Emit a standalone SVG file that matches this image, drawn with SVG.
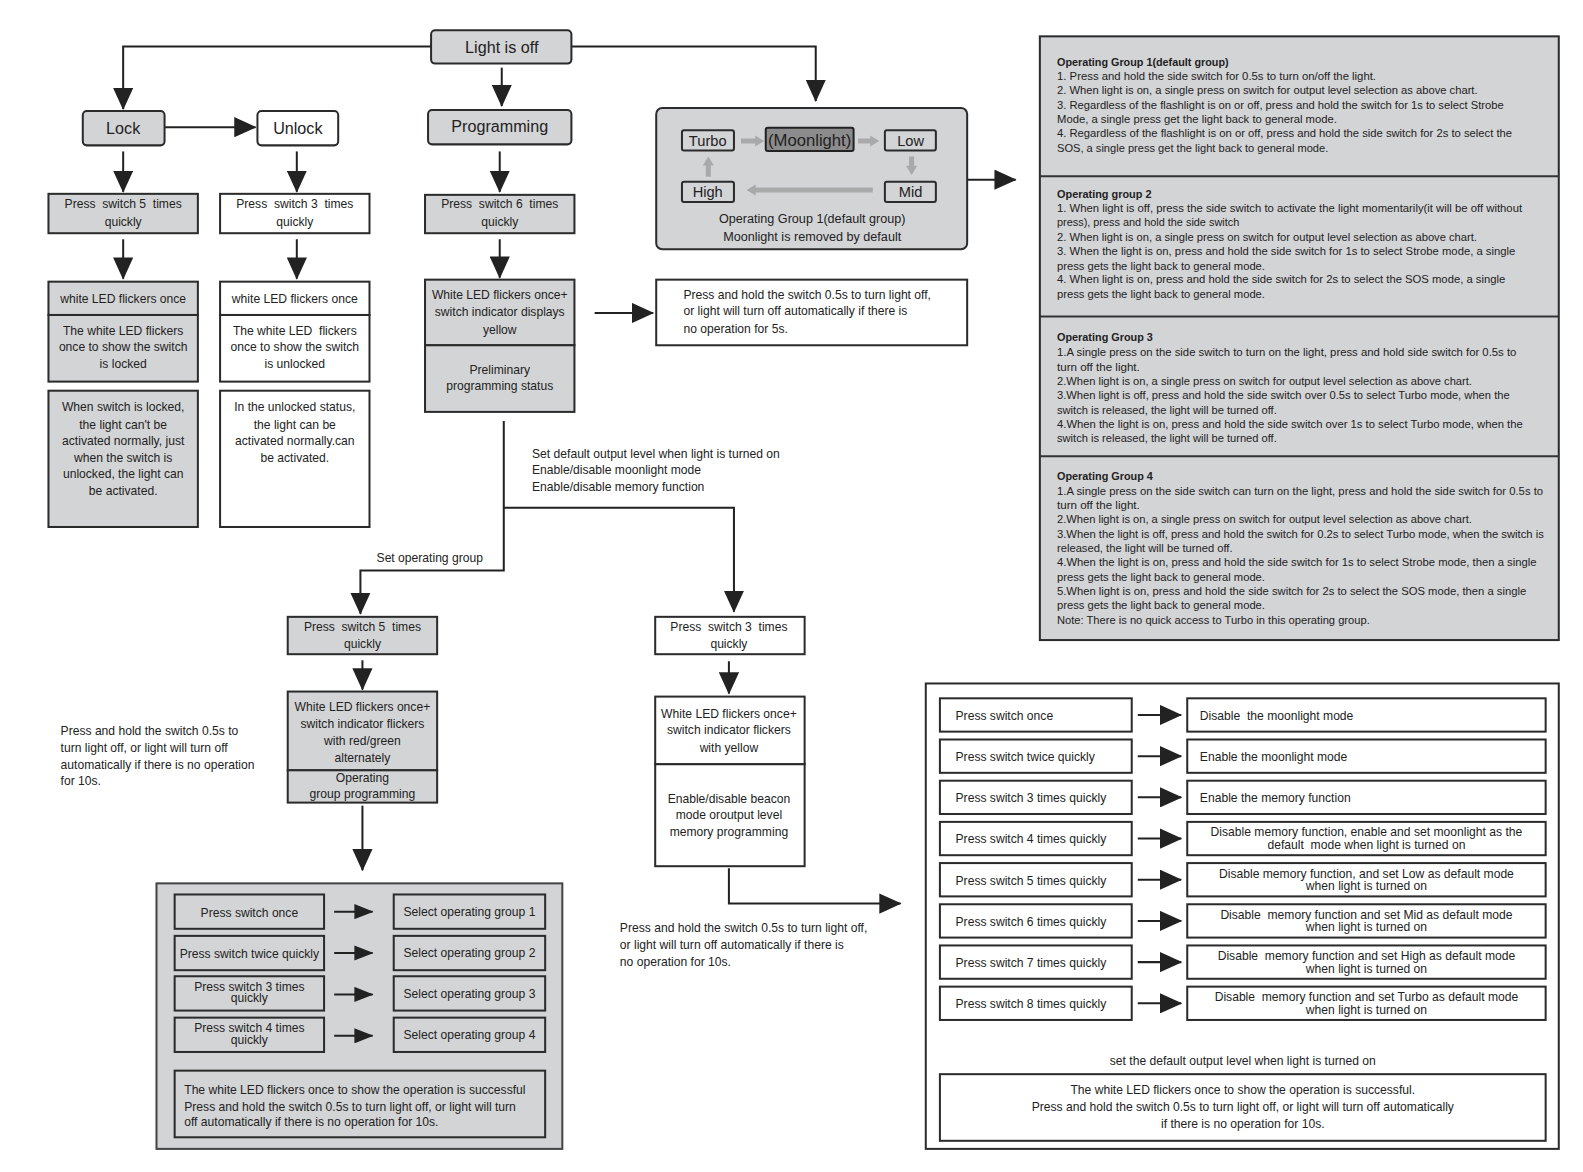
<svg xmlns="http://www.w3.org/2000/svg" width="1583" height="1172" viewBox="0 0 1583 1172">
<style>
.g{fill:#d3d4d6;stroke:#2b2b2b;stroke-width:2}
.w{fill:#fff;stroke:#2b2b2b;stroke-width:2}
.dk{fill:#8c8c8c;stroke:#222;stroke-width:2}
.ga{fill:#a9a9a9}
text{font-family:"Liberation Sans",Arial,sans-serif;font-size:12px;fill:#222;white-space:pre}
.c{text-anchor:middle}
.h{font-size:16px}
.p{font-size:10.5px}
.b{font-weight:bold}
.ln{fill:none;stroke:#222;stroke-width:2}
</style>
<defs>
<marker id="ah" markerUnits="userSpaceOnUse" markerWidth="22" markerHeight="20" refX="21" refY="10" orient="auto"><path d="M0,0 L22,10 L0,20 z" fill="#222"/></marker>
<marker id="as" markerUnits="userSpaceOnUse" markerWidth="19" markerHeight="15" refX="18" refY="7.5" orient="auto"><path d="M0,0 L19,7.5 L0,15 z" fill="#222"/></marker>
</defs>
<rect width="1583" height="1172" fill="#fff"/>
<g transform="scale(1.009566)">

<g id="connectors">
<path class="ln" d="M427,46 H122 V108" marker-end="url(#ah)"/>
<path class="ln" d="M566,46 H808 V100" marker-end="url(#ah)"/>
<path class="ln" d="M497,67 V105" marker-end="url(#ah)"/>
<path class="ln" d="M163,126 H253" marker-end="url(#ah)"/>
<path class="ln" d="M122,150 V190" marker-end="url(#ah)"/>
<path class="ln" d="M294,150 V190" marker-end="url(#ah)"/>
<path class="ln" d="M495,150 V190" marker-end="url(#ah)"/>
<path class="ln" d="M122,237 V276" marker-end="url(#ah)"/>
<path class="ln" d="M294,237 V276" marker-end="url(#ah)"/>
<path class="ln" d="M495,237 V275" marker-end="url(#ah)"/>
<path class="ln" d="M589,310 H647" marker-end="url(#ah)"/>
<path class="ln" d="M958,178 H1006" marker-end="url(#ah)"/>
<path class="ln" d="M499,417 V565 H357 V608" marker-end="url(#ah)"/>
<path class="ln" d="M499,503 H727 V606" marker-end="url(#ah)"/>
<path class="ln" d="M359,654 V683" marker-end="url(#ah)"/>
<path class="ln" d="M359,798 V862" marker-end="url(#ah)"/>
<path class="ln" d="M722,655 V687" marker-end="url(#ah)"/>
<path class="ln" d="M722,860 V895 H892" marker-end="url(#ah)"/>
<text x="527" y="453.5">Set default output level when light is turned on</text>
<text x="527" y="469.5">Enable/disable moonlight mode</text>
<text x="527" y="486.5">Enable/disable memory function</text>
<text x="373" y="556.5">Set operating group</text>
</g>

<g id="light-off"><rect class="g" x="427" y="30" width="139" height="33" rx="4"/><text class="c h" x="497" y="52.5">Light is off</text></g>
<g id="lock"><rect class="g" x="82" y="110" width="81" height="34" rx="4"/><text class="c h" x="122" y="132.5">Lock</text></g>
<g id="unlock"><rect class="w" x="255" y="110" width="80" height="34" rx="4"/><text class="c h" x="295" y="132.5">Unlock</text></g>
<g id="programming"><rect class="g" x="424" y="109" width="142" height="34" rx="4"/><text class="c h" x="495" y="130.5">Programming</text></g>

<g id="lock-press"><rect class="g" x="48" y="192" width="148" height="39"/><text class="c" x="122" y="206.5">Press  switch 5  times</text><text class="c" x="122" y="223.5">quickly</text></g>
<g id="unlock-press"><rect class="w" x="218" y="192" width="148" height="39"/><text class="c" x="292" y="206.5">Press  switch 3  times</text><text class="c" x="292" y="223.5">quickly</text></g>
<g id="prog-press"><rect class="g" x="421" y="193" width="148" height="38"/><text class="c" x="495" y="206.5">Press  switch 6  times</text><text class="c" x="495" y="223.5">quickly</text></g>

<g id="lock-result">
<rect class="g" x="48" y="279" width="148" height="33"/><text class="c" x="122" y="300.5">white LED flickers once</text>
<rect class="g" x="48" y="312" width="148" height="66"/>
<text class="c" x="122" y="331.5">The white LED flickers</text><text class="c" x="122" y="347.5">once to show the switch</text><text class="c" x="122" y="364.5">is locked</text>
</g>
<g id="lock-note"><rect class="g" x="48" y="387" width="148" height="135"/>
<text class="c" x="122" y="407.5">When switch is locked,</text><text class="c" x="122" y="424.5">the light can't be</text><text class="c" x="122" y="440.5">activated normally, just</text><text class="c" x="122" y="457.5">when the switch is</text><text class="c" x="122" y="473.5">unlocked, the light can</text><text class="c" x="122" y="490.5">be activated.</text>
</g>
<g id="unlock-result">
<rect class="w" x="218" y="279" width="148" height="33"/><text class="c" x="292" y="300.5">white LED flickers once</text>
<rect class="w" x="218" y="312" width="148" height="66"/>
<text class="c" x="292" y="331.5">The white LED  flickers</text><text class="c" x="292" y="347.5">once to show the switch</text><text class="c" x="292" y="364.5">is unlocked</text>
</g>
<g id="unlock-note"><rect class="w" x="218" y="387" width="148" height="135"/>
<text class="c" x="292" y="407.5">In the unlocked status,</text><text class="c" x="292" y="424.5">the light can be</text><text class="c" x="292" y="440.5">activated normally.can</text><text class="c" x="292" y="457.5">be activated.</text>
</g>
<g id="prog-result">
<rect class="g" x="421" y="277" width="148" height="65"/>
<text class="c" x="495" y="296.5">White LED flickers once+</text><text class="c" x="495" y="313.5">switch indicator displays</text><text class="c" x="495" y="330.5">yellow</text>
<rect class="g" x="421" y="342" width="148" height="66"/>
<text class="c" x="495" y="370.5">Preliminary</text><text class="c" x="495" y="386.5">programming status</text>
</g>
<g id="prog-timeout"><rect class="w" x="650" y="277" width="308" height="65"/>
<text x="677" y="296.5">Press and hold the switch 0.5s to turn light off,</text><text x="677" y="312.5">or light will turn off automatically if there is</text><text x="677" y="329.5">no operation for 5s.</text>
</g>

<g id="mode-cycle">
<rect class="g" x="650" y="107" width="308" height="140" rx="6"/>
<rect class="g" x="675.5" y="129" width="51.5" height="20" rx="2"/><text class="c" x="701" y="144.5" style="font-size:14.5px">Turbo</text>
<rect class="dk" x="758.5" y="126.5" width="87" height="23" rx="2"/><text class="c" x="802" y="144.5" style="font-size:16.5px">(Moonlight)</text>
<rect class="g" x="876.5" y="129" width="50.5" height="20" rx="2"/><text class="c" x="902" y="144.5" style="font-size:14.5px">Low</text>
<rect class="g" x="675.5" y="180" width="51.5" height="20" rx="2"/><text class="c" x="701" y="195.5" style="font-size:14.5px">High</text>
<rect class="g" x="876.5" y="180" width="50.5" height="20" rx="2"/><text class="c" x="902" y="195.5" style="font-size:14.5px">Mid</text>
<polygon class="ga" points="734,137.2 748,137.2 748,134.2 757,139.7 748,145.2 748,142.2 734,142.2"/>
<polygon class="ga" points="850,137.2 862,137.2 862,134.2 871,139.7 862,145.2 862,142.2 850,142.2"/>
<polygon class="ga" points="864.5,185.7 748.5,185.7 748.5,182.7 739.5,188.2 748.5,193.7 748.5,190.7 864.5,190.7"/>
<polygon class="ga" points="900.5,155 900.5,164.3 897.5,164.3 903,173.3 908.5,164.3 905.5,164.3 905.5,155"/>
<polygon class="ga" points="699.1,175 699.1,164 696.1,164 701.6,155 707.1,164 704.1,164 704.1,175"/>
<text class="c" x="804.5" y="221" style="font-size:12.5px">Operating Group 1(default group)</text>
<text class="c" x="804.5" y="239" style="font-size:12.5px">Moonlight is removed by default</text>
</g>

<g id="group-panel">
<rect class="g" x="1030" y="36" width="514" height="598"/>
<line class="ln" x1="1030" y1="174.6" x2="1544" y2="174.6" style="stroke:#333"/>
<line class="ln" x1="1030" y1="313.5" x2="1544" y2="313.5" style="stroke:#333"/>
<line class="ln" x1="1030" y1="452" x2="1544" y2="452" style="stroke:#333"/>
<g lengthAdjust="spacingAndGlyphs">
<text class="p b" x="1047" y="65" textLength="170" lengthAdjust="spacingAndGlyphs">Operating Group 1(default group)</text>
<text class="p" x="1047" y="79" textLength="316" lengthAdjust="spacingAndGlyphs">1. Press and hold the side switch for 0.5s to turn on/off the light.</text>
<text class="p" x="1047" y="93.2" textLength="416.6" lengthAdjust="spacingAndGlyphs">2. When light is on, a single press on switch for output level selection as above chart.</text>
<text class="p" x="1047" y="107.5" textLength="442.4" lengthAdjust="spacingAndGlyphs">3. Regardless of the flashlight is on or off, press and hold the switch for 1s to select Strobe</text>
<text class="p" x="1047" y="121.7" textLength="277.3" lengthAdjust="spacingAndGlyphs">Mode, a single press get the light back to general mode.</text>
<text class="p" x="1047" y="135.9" textLength="450.7" lengthAdjust="spacingAndGlyphs">4. Regardless of the flashlight is on or off, press and hold the side switch for 2s to select the</text>
<text class="p" x="1047" y="150.2" textLength="268.7" lengthAdjust="spacingAndGlyphs">SOS, a single press get the light back to general mode.</text>

<text class="p b" x="1047" y="196" textLength="93.6" lengthAdjust="spacingAndGlyphs">Operating group 2</text>
<text class="p" x="1047" y="209.9" textLength="460.7" lengthAdjust="spacingAndGlyphs">1. When light is off, press the side switch to activate the light momentarily(it will be off without</text>
<text class="p" x="1047" y="224.2" textLength="180.5" lengthAdjust="spacingAndGlyphs">press), press and hold the side switch</text>
<text class="p" x="1047" y="238.4" textLength="416" lengthAdjust="spacingAndGlyphs">2. When light is on, a single press on switch for output level selection as above chart.</text>
<text class="p" x="1047" y="252.7" textLength="454" lengthAdjust="spacingAndGlyphs">3. When the light is on, press and hold the side switch for 1s to select Strobe mode, a single</text>
<text class="p" x="1047" y="267" textLength="206" lengthAdjust="spacingAndGlyphs">press gets the light back to general mode.</text>
<text class="p" x="1047" y="280.8" textLength="444" lengthAdjust="spacingAndGlyphs">4. When light is on, press and hold the side switch for 2s to select the SOS mode, a single</text>
<text class="p" x="1047" y="295.1" textLength="206" lengthAdjust="spacingAndGlyphs">press gets the light back to general mode.</text>

<text class="p b" x="1047" y="338.1" textLength="95" lengthAdjust="spacingAndGlyphs">Operating Group 3</text>
<text class="p" x="1047" y="353" textLength="455" lengthAdjust="spacingAndGlyphs">1.A single press on the side switch to turn on the light, press and hold side switch for 0.5s to</text>
<text class="p" x="1047" y="367.2" textLength="82" lengthAdjust="spacingAndGlyphs">turn off the light.</text>
<text class="p" x="1047" y="381.5" textLength="411" lengthAdjust="spacingAndGlyphs">2.When light is on, a single press on switch for output level selection as above chart.</text>
<text class="p" x="1047" y="395.4" textLength="448.4" lengthAdjust="spacingAndGlyphs">3.When light is off, press and hold the side switch over 0.5s to select Turbo mode, when the</text>
<text class="p" x="1047" y="409.7" textLength="217.7" lengthAdjust="spacingAndGlyphs">switch is released, the light will be turned off.</text>
<text class="p" x="1047" y="424" textLength="461.3" lengthAdjust="spacingAndGlyphs">4.When the light is on, press and hold the side switch over 1s to select Turbo mode, when the</text>
<text class="p" x="1047" y="438.2" textLength="217.7" lengthAdjust="spacingAndGlyphs">switch is released, the light will be turned off.</text>

<text class="p b" x="1047" y="475.7" textLength="95" lengthAdjust="spacingAndGlyphs">Operating Group 4</text>
<text class="p" x="1047" y="490.3" textLength="481.5" lengthAdjust="spacingAndGlyphs">1.A single press on the side switch can turn on the light, press and hold the side switch for 0.5s to</text>
<text class="p" x="1047" y="504.2" textLength="82" lengthAdjust="spacingAndGlyphs">turn off the light.</text>
<text class="p" x="1047" y="518.5" textLength="411" lengthAdjust="spacingAndGlyphs">2.When light is on, a single press on switch for output level selection as above chart.</text>
<text class="p" x="1047" y="532.7" textLength="482.2" lengthAdjust="spacingAndGlyphs">3.When the light is off, press and hold the switch for 0.2s to select Turbo mode, when the switch is</text>
<text class="p" x="1047" y="547" textLength="173.9" lengthAdjust="spacingAndGlyphs">released, the light will be turned off.</text>
<text class="p" x="1047" y="560.9" textLength="474.9" lengthAdjust="spacingAndGlyphs">4.When the light is on, press and hold the side switch for 1s to select Strobe mode, then a single</text>
<text class="p" x="1047" y="575.1" textLength="206" lengthAdjust="spacingAndGlyphs">press gets the light back to general mode.</text>
<text class="p" x="1047" y="589.4" textLength="464.7" lengthAdjust="spacingAndGlyphs">5.When light is on, press and hold the side switch for 2s to select the SOS mode, then a single</text>
<text class="p" x="1047" y="603.6" textLength="206" lengthAdjust="spacingAndGlyphs">press gets the light back to general mode.</text>
<text class="p" x="1047" y="617.9" textLength="309.8" lengthAdjust="spacingAndGlyphs">Note: There is no quick access to Turbo in this operating group.</text>
</g>
</g>

<g id="opgroup-press"><rect class="g" x="285" y="611" width="148" height="37"/><text class="c" x="359" y="625.5">Press  switch 5  times</text><text class="c" x="359" y="641.5">quickly</text></g>
<g id="opgroup-result">
<rect class="g" x="285" y="685" width="148" height="78"/>
<text class="c" x="359" y="704.5">White LED flickers once+</text><text class="c" x="359" y="721.5">switch indicator flickers</text><text class="c" x="359" y="737.5">with red/green</text><text class="c" x="359" y="754.5">alternately</text>
<rect class="g" x="285" y="763" width="148" height="32"/>
<text class="c" x="359" y="774.5">Operating</text><text class="c" x="359" y="790.5">group programming</text>
</g>
<g id="opgroup-note">
<text x="60" y="728.5">Press and hold the switch 0.5s to</text><text x="60" y="744.5">turn light off, or light will turn off</text><text x="60" y="761.5">automatically if there is no operation</text><text x="60" y="777.5">for 10s.</text>
</g>

<g id="output-press"><rect class="w" x="649" y="611" width="148" height="37"/><text class="c" x="722" y="625.5">Press  switch 3  times</text><text class="c" x="722" y="641.5">quickly</text></g>
<g id="output-result">
<rect class="w" x="649" y="690" width="148" height="67"/>
<text class="c" x="722" y="711.5">White LED flickers once+</text><text class="c" x="722" y="727.5">switch indicator flickers</text><text class="c" x="722" y="744.5">with yellow</text>
<rect class="w" x="649" y="757" width="148" height="101"/>
<text class="c" x="722" y="795.5">Enable/disable beacon</text><text class="c" x="722" y="811.5">mode oroutput level</text><text class="c" x="722" y="828.5">memory programming</text>
</g>
<g id="output-note">
<text x="614" y="923.5">Press and hold the switch 0.5s to turn light off,</text><text x="614" y="940.5">or light will turn off automatically if there is</text><text x="614" y="956.5">no operation for 10s.</text>
</g>

<g id="opgroup-table">
<rect class="g" x="155" y="875" width="402" height="263" style="stroke:#444"/>
<rect class="g" x="173" y="886" width="148" height="34"/><text class="c" x="247" y="908">Press switch once</text>
<rect class="g" x="173" y="927" width="148" height="34"/><text class="c" x="247" y="948.5">Press switch twice quickly</text>
<rect class="g" x="173" y="967" width="148" height="34"/><text class="c" x="247" y="981.5">Press switch 3 times</text><text class="c" x="247" y="993">quickly</text>
<rect class="g" x="173" y="1008" width="148" height="34"/><text class="c" x="247" y="1022.5">Press switch 4 times</text><text class="c" x="247" y="1034">quickly</text>
<rect class="g" x="390" y="886" width="150" height="34"/><text class="c" x="465" y="907.5">Select operating group 1</text>
<rect class="g" x="390" y="927" width="150" height="34"/><text class="c" x="465" y="948">Select operating group 2</text>
<rect class="g" x="390" y="967" width="150" height="34"/><text class="c" x="465" y="988.5">Select operating group 3</text>
<rect class="g" x="390" y="1008" width="150" height="34"/><text class="c" x="465" y="1029.5">Select operating group 4</text>
<path class="ln" d="M331,903 H369" marker-end="url(#as)"/>
<path class="ln" d="M331,944 H369" marker-end="url(#as)"/>
<path class="ln" d="M331,985 H369" marker-end="url(#as)"/>
<path class="ln" d="M331,1026 H369" marker-end="url(#as)"/>
<rect class="g" x="173" y="1060.5" width="367" height="66"/>
<text x="182.5" y="1084">The white LED flickers once to show the operation is successful</text>
<text x="182.5" y="1100">Press and hold the switch 0.5s to turn light off, or light will turn</text>
<text x="182.5" y="1115.5">off automatically if there is no operation for 10s.</text>
</g>

<g id="output-table">
<rect class="w" x="917" y="677" width="627" height="461"/>
<rect class="w" x="931" y="691.7" width="190" height="33"/><text x="946.5" y="713">Press switch once</text>
<rect class="w" x="931" y="732.5" width="190" height="33"/><text x="946.5" y="753.8">Press switch twice quickly</text>
<rect class="w" x="931" y="773.3" width="190" height="33"/><text x="946.5" y="794.6">Press switch 3 times quickly</text>
<rect class="w" x="931" y="814.1" width="190" height="33"/><text x="946.5" y="835.4">Press switch 4 times quickly</text>
<rect class="w" x="931" y="854.9" width="190" height="33"/><text x="946.5" y="876.2">Press switch 5 times quickly</text>
<rect class="w" x="931" y="895.7" width="190" height="33"/><text x="946.5" y="917">Press switch 6 times quickly</text>
<rect class="w" x="931" y="936.5" width="190" height="33"/><text x="946.5" y="957.8">Press switch 7 times quickly</text>
<rect class="w" x="931" y="977.3" width="190" height="33"/><text x="946.5" y="998.6">Press switch 8 times quickly</text>
<rect class="w" x="1176" y="691.7" width="355" height="33"/><text x="1188.5" y="713">Disable  the moonlight mode</text>
<rect class="w" x="1176" y="732.5" width="355" height="33"/><text x="1188.5" y="753.8">Enable the moonlight mode</text>
<rect class="w" x="1176" y="773.3" width="355" height="33"/><text x="1188.5" y="794.6">Enable the memory function</text>
<rect class="w" x="1176" y="814.1" width="355" height="33"/><text class="c" x="1353.5" y="828.4">Disable memory function, enable and set moonlight as the</text><text class="c" x="1353.5" y="840.9">default  mode when light is turned on</text>
<rect class="w" x="1176" y="854.9" width="355" height="33"/><text class="c" x="1353.5" y="869.2">Disable memory function, and set Low as default mode</text><text class="c" x="1353.5" y="881.7">when light is turned on</text>
<rect class="w" x="1176" y="895.7" width="355" height="33"/><text class="c" x="1353.5" y="910">Disable  memory function and set Mid as default mode</text><text class="c" x="1353.5" y="922.5">when light is turned on</text>
<rect class="w" x="1176" y="936.5" width="355" height="33"/><text class="c" x="1353.5" y="950.8">Disable  memory function and set High as default mode</text><text class="c" x="1353.5" y="963.3">when light is turned on</text>
<rect class="w" x="1176" y="977.3" width="355" height="33"/><text class="c" x="1353.5" y="991.6">Disable  memory function and set Turbo as default mode</text><text class="c" x="1353.5" y="1004.1">when light is turned on</text>
<path class="ln" d="M1127,708.2 H1170" marker-end="url(#ah)"/>
<path class="ln" d="M1127,749 H1170" marker-end="url(#ah)"/>
<path class="ln" d="M1127,789.8 H1170" marker-end="url(#ah)"/>
<path class="ln" d="M1127,830.6 H1170" marker-end="url(#ah)"/>
<path class="ln" d="M1127,871.4 H1170" marker-end="url(#ah)"/>
<path class="ln" d="M1127,912.2 H1170" marker-end="url(#ah)"/>
<path class="ln" d="M1127,953 H1170" marker-end="url(#ah)"/>
<path class="ln" d="M1127,993.8 H1170" marker-end="url(#ah)"/>
<text class="c" x="1231" y="1055">set the default output level when light is turned on</text>
<rect class="w" x="931" y="1064" width="600" height="66"/>
<text class="c" x="1231" y="1084">The white LED flickers once to show the operation is successful.</text>
<text class="c" x="1231" y="1100.5">Press and hold the switch 0.5s to turn light off, or light will turn off automatically</text>
<text class="c" x="1231" y="1117">if there is no operation for 10s.</text>
</g>
</g>
</svg>
